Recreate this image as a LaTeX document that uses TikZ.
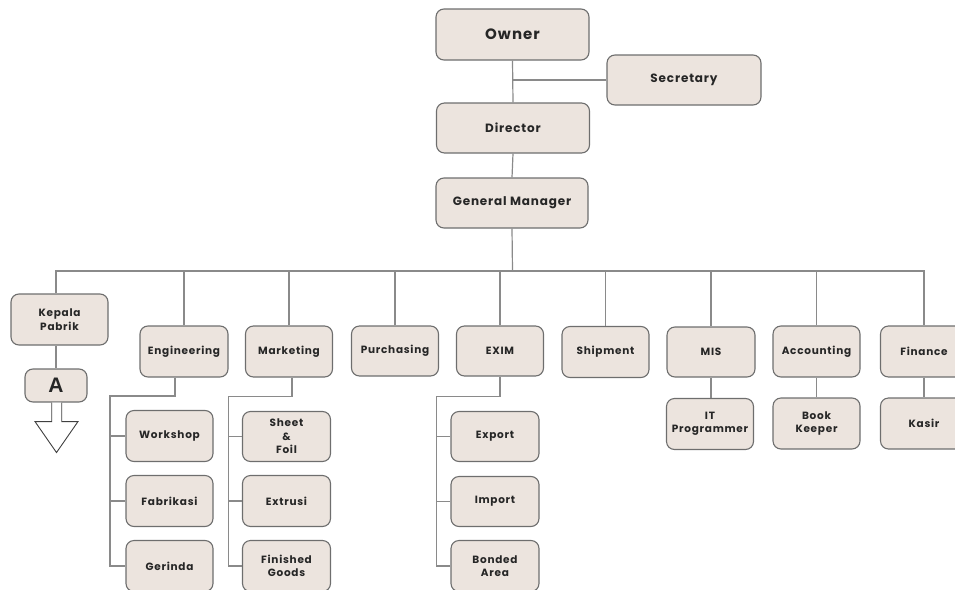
\documentclass[tikz,border=0pt]{standalone}
\usepackage{fontspec}
\setmainfont{Poppins}[LetterSpace=7]
\newfontfamily\arialfont{Liberation Sans}
\usetikzlibrary{calc}
\definecolor{boxfill}{HTML}{ECE4DE}
\definecolor{boxline}{HTML}{6E6E6E}
\definecolor{connline}{HTML}{8A8A8A}
\tikzset{
  orgbox/.style={draw=boxline, line width=1.1pt, fill=boxfill, rounded corners=8pt,
    inner sep=0pt, align=center, minimum width=87pt, minimum height=51pt,
    font=\fontsize{10.5}{13.5}\selectfont\bfseries, text=black!85},
  bigbox/.style={orgbox, minimum width=153pt, minimum height=50pt,
    font=\fontsize{12}{14}\selectfont\bfseries},
  conn/.style={draw=connline, line width=1.2pt},
}
\begin{document}
\begin{tikzpicture}[x=1pt,y=-1pt]
\useasboundingbox (0,0) rectangle (955,589);
\clip (0,0) rectangle (955,589);
% top chain
\node[bigbox, minimum height=51pt, font=\fontsize{15}{17}\selectfont\bfseries] (own) at (512.5,34.5) {Owner};
\node[bigbox, minimum width=154pt] (sec) at (684,80) {Secretary};
\node[bigbox] (dir) at (513,128) {Director};
\node[bigbox, minimum width=152pt] (gm) at (512,203) {General Manager};
% second level
\node[orgbox, minimum width=97pt] (kp) at (59.5,319.5) {Kepala\\Pabrik};
\node[orgbox, minimum width=62pt, minimum height=33pt, font=\arialfont\fontsize{21}{22}\selectfont\bfseries] (a) at (56,385.5) {A};
\node[orgbox, minimum width=88pt] (eng) at (184,351.5) {Engineering};
\node[orgbox] (mkt) at (289,351.5) {Marketing};
\node[orgbox, minimum height=50pt] (pur) at (395,351) {Purchasing};
\node[orgbox, minimum height=50pt] (exim) at (500,351) {EXIM};
\node[orgbox] (ship) at (605.5,352) {Shipment};
\node[orgbox, minimum width=88pt, minimum height=50pt] (mis) at (711,352) {MIS};
\node[orgbox] (acc) at (816.5,351.5) {Accounting};
\node[orgbox] (fin) at (924,351.5) {Finance};
% engineering children
\node[orgbox] (ws) at (169.5,436) {Workshop};
\node[orgbox] (fab) at (169.5,501) {Fabrikasi};
\node[orgbox] (ger) at (169.5,566) {Gerinda};
% marketing children
\node[orgbox, minimum width=88pt, minimum height=50pt] (sf) at (286.5,436.5) {Sheet\\\&\\Foil};
\node[orgbox, minimum width=88pt] (ext) at (286.5,501) {Extrusi};
\node[orgbox, minimum width=88pt] (fg) at (286.5,566) {Finished\\Goods};
% exim children
\node[orgbox, minimum width=88pt, minimum height=50pt] (exp) at (495,436.5) {Export};
\node[orgbox, minimum width=88pt, minimum height=50pt] (imp) at (495,501.5) {Import};
\node[orgbox, minimum width=88pt] (bon) at (495,566) {Bonded\\Area};
% third level single children
\node[orgbox] (it) at (710,424) {IT\\Programmer};
\node[orgbox] (bk) at (816.5,423.5) {Book\\Keeper};
\node[orgbox] (kas) at (924,423.5) {Kasir};

% connectors top
\draw[conn] (own.south) -- (dir.north);
\draw[conn] (sec.west) -- (sec.west -| own.south);
\draw[conn] (dir.south) -- (gm.north);
\coordinate (bus) at (512.5,271);
\draw[conn] (gm.south) -- (bus);
\draw[conn] ([xshift=-3.5pt]kp.north) |- (bus) -| (fin.north);
\foreach \n in {eng,mkt,pur,exim,ship,mis,acc}{
  \draw[conn] (\n.north) -- (\n.north |- bus);
}
\draw[conn] ([xshift=-3.5pt]kp.south) -- ([xshift=-3.5pt]kp.south |- a.north);
% engineering
\coordinate (et) at (110,396);
\draw[conn] ([xshift=-9pt]eng.south) |- (et) |- (ger.west);
\draw[conn] (et |- ws.west) -- (ws.west);
\draw[conn] (et |- fab.west) -- (fab.west);
% marketing
\coordinate (mt) at (228.5,396.5);
\draw[conn] ([xshift=3pt]mkt.south) |- (mt) |- (fg.west);
\draw[conn] (mt |- sf.west) -- (sf.west);
\draw[conn] (mt |- ext.west) -- (ext.west);
% exim
\coordinate (xt) at (436.5,396.5);
\draw[conn] (exim.south) |- (xt) |- (bon.west);
\draw[conn] (xt |- exp.west) -- (exp.west);
\draw[conn] (xt |- imp.west) -- (imp.west);
% single children
\draw[conn] (mis.south) -- (mis.south |- it.north);
\draw[conn] (acc.south) -- (bk.north);
\draw[conn] (fin.south) -- (kas.north);
% arrow below A
\begin{scope}[shift={(a.south)}]
\draw[draw=black!75, fill=white, line width=0.9pt, line join=miter]
  (-4.3,0) -- (-4.3,19) -- (-21,19) -- (0.5,50) -- (22,19) -- (5.7,19) -- (5.7,0);
\end{scope}
\end{tikzpicture}
\end{document}
